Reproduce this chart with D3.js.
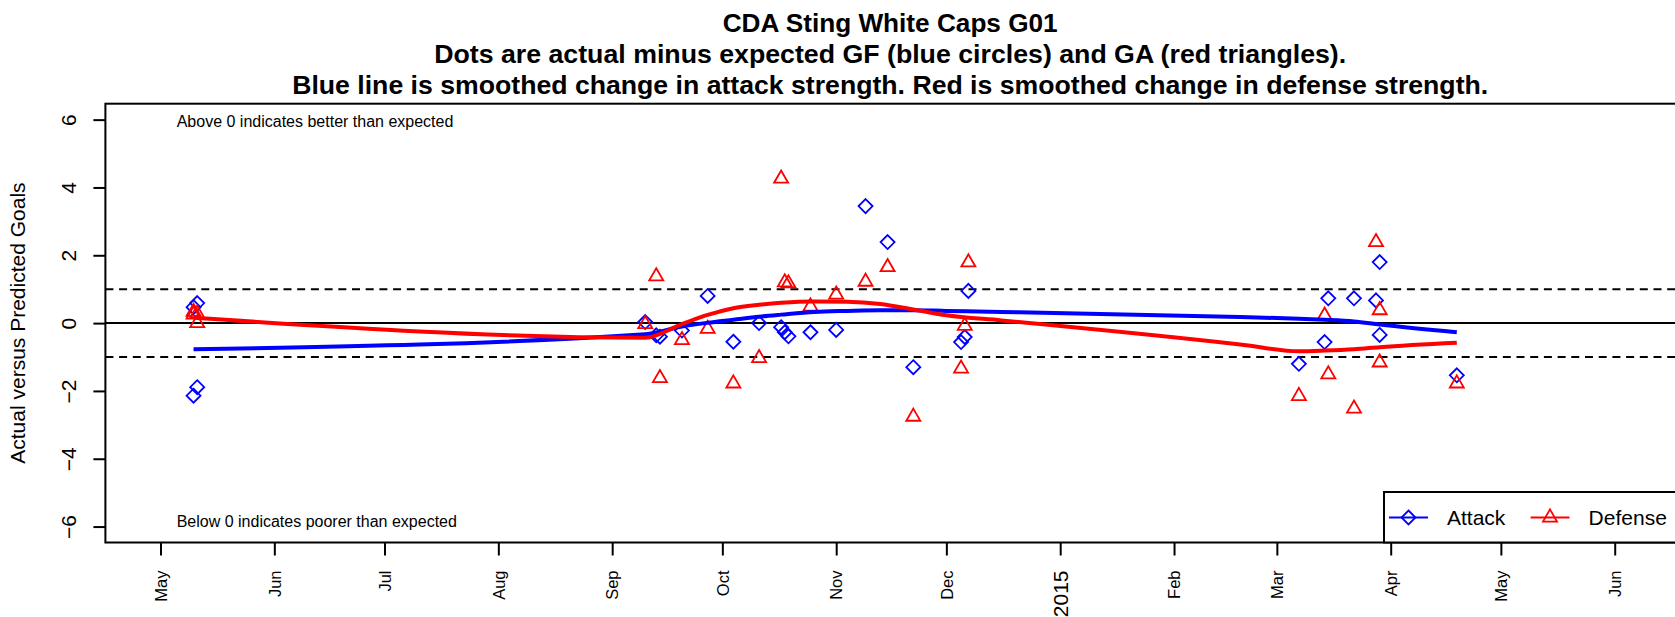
<!DOCTYPE html>
<html>
<head>
<meta charset="utf-8">
<script src="https://cdn.jsdelivr.net/npm/d3@7"></script>
<style>
  body { margin: 0; background: #fff; }
  svg { display: block; font-family: "Liberation Sans", Arial, Helvetica, sans-serif; }
</style>
</head>
<body>
<div id="chart"></div>
<script>
// game-by-game actual minus expected
const gameDates = [
  "2014-05-10", "2014-05-10", "2014-05-11", "2014-05-11",
  "2014-09-10", "2014-09-13", "2014-09-14", "2014-09-20", "2014-09-27",
  "2014-10-04", "2014-10-11", "2014-10-17", "2014-10-18", "2014-10-19",
  "2014-10-25", "2014-11-01", "2014-11-09", "2014-11-15", "2014-11-22",
  "2014-12-05", "2014-12-06", "2014-12-07",
  "2015-03-07", "2015-03-14", "2015-03-15", "2015-03-22", "2015-03-28",
  "2015-03-29", "2015-03-29", "2015-04-19"
];
const attackDiff = [
  0.47, -2.14, 0.59, -1.89,
  0.03, -0.36, -0.40, -0.22, 0.80,
  -0.55, 0.00, -0.12, -0.27, -0.39,
  -0.27, -0.20, 3.45, 2.39, -1.30,
  -0.56, -0.41, 0.95,
  -1.20, -0.56, 0.73, 0.73, 0.67,
  1.80, -0.35, -1.54
];
const defenseDiff = [
  0.33, 0.25, 0.28, 0.00,
  -0.03, 1.38, -1.62, -0.50, -0.17,
  -1.78, -1.03, 4.26, 1.20, 1.17,
  0.49, 0.84, 1.22, 1.65, -2.76,
  -1.34, -0.08, 1.79,
  -2.15, 0.22, -1.51, -2.52, 2.39,
  0.38, -1.16, -1.78
];

// smoothed strength changes
const smoothDates = [
  "2014-05-10", "2014-09-10", "2014-09-20", "2014-09-27", "2014-10-04",
  "2014-10-11", "2014-10-17", "2014-10-26", "2014-11-04", "2014-11-13",
  "2014-11-22", "2014-12-01", "2014-12-16", "2015-02-19", "2015-03-07",
  "2015-03-14", "2015-03-22", "2015-03-29", "2015-04-19"
];
const attackSmooth = [
  -0.77, -0.33, -0.10, 0.01, 0.10,
  0.19, 0.25, 0.33, 0.36, 0.38,
  0.38, 0.36, 0.33, 0.18, 0.13,
  0.10, 0.05, -0.04, -0.27
];
const defenseSmooth = [
  0.16, -0.43, -0.03, 0.24, 0.44,
  0.54, 0.60, 0.64, 0.63, 0.56,
  0.40, 0.23, 0.08, -0.63, -0.83,
  -0.81, -0.77, -0.71, -0.58
];

const xTickDates = [
  "2014-05-01", "2014-06-01", "2014-07-01", "2014-08-01", "2014-09-01",
  "2014-10-01", "2014-11-01", "2014-12-01", "2015-01-01", "2015-02-01",
  "2015-03-01", "2015-04-01", "2015-05-01", "2015-06-01"
];
const xTickLabels = ["May", "Jun", "Jul", "Aug", "Sep", "Oct", "Nov", "Dec",
  "2015", "Feb", "Mar", "Apr", "May", "Jun"];
const yTicks = [-6, -4, -2, 0, 2, 4, 6];

const titleLines = [
  "CDA Sting White Caps G01",
  "Dots are actual minus expected GF (blue circles) and GA (red triangles).",
  "Blue line is smoothed change in attack strength. Red is smoothed change in defense strength."
];
// rendered widths of the title lines in the reference
const titleWidths = [335, 912, 1196];

const width = 1675, height = 617;
const margin = { left: 105.4, top: 103.7, right: 0, bottom: 74.5 };
const parse = d3.utcParse("%Y-%m-%d");

const svg = d3.select("#chart").append("svg")
  .attr("width", width).attr("height", height);
svg.append("rect").attr("width", width).attr("height", height).attr("fill", "#fff");

const x = d3.scaleUtc()
  .domain([parse("2014-04-16"), new Date(Date.UTC(2015, 5, 17, 10))])
  .range([margin.left, width - margin.right]);
const y = d3.scaleLinear()
  .domain([-6.47, 6.47])
  .range([height - margin.bottom, margin.top]);

const x0 = margin.left, x1 = width - margin.right;

svg.append("clipPath").attr("id", "plotclip")
  .append("rect").attr("x", x0).attr("y", margin.top)
  .attr("width", x1 - x0).attr("height", y(-6.47) - margin.top);

const plot = svg.append("g").attr("clip-path", "url(#plotclip)");

// reference lines
plot.selectAll(".dash").data([1, -1]).join("line")
  .attr("x1", x0).attr("x2", x1)
  .attr("y1", d => y(d)).attr("y2", d => y(d))
  .attr("stroke", "#000").attr("stroke-width", 2)
  .attr("stroke-dasharray", "8,5.7");
plot.append("line")
  .attr("x1", x0 - 12).attr("x2", x1)
  .attr("y1", y(0)).attr("y2", y(0))
  .attr("stroke", "#000").attr("stroke-width", 2);

// points
const games = gameDates.map((d, i) => ({ date: parse(d), atk: attackDiff[i], def: defenseDiff[i] }));
const diamond = (cx, cy, r) => `M${cx},${cy - r}L${cx + r},${cy}L${cx},${cy + r}L${cx - r},${cy}Z`;
const triangle = (cx, cy, a) =>
  `M${cx},${cy - 1.555 * a}L${cx + 1.347 * a},${cy + 0.778 * a}L${cx - 1.347 * a},${cy + 0.778 * a}Z`;

plot.selectAll(".atk").data(games).join("path")
  .attr("d", d => diamond(x(d.date), y(d.atk), 7))
  .attr("fill", "none").attr("stroke", "#0000ff").attr("stroke-width", 1.8);
plot.selectAll(".def").data(games).join("path")
  .attr("d", d => triangle(x(d.date), y(d.def), 5.2))
  .attr("fill", "none").attr("stroke", "#ff0000").attr("stroke-width", 1.8);

// smoothed lines
const line = d3.line().x(d => x(d[0])).y(d => y(d[1])).curve(d3.curveMonotoneX);
const sDates = smoothDates.map(parse);
plot.append("path")
  .attr("d", line(sDates.map((d, i) => [d, attackSmooth[i]])))
  .attr("fill", "none").attr("stroke", "#0000ff").attr("stroke-width", 4);
plot.append("path")
  .attr("d", line(sDates.map((d, i) => [d, defenseSmooth[i]])))
  .attr("fill", "none").attr("stroke", "#ff0000").attr("stroke-width", 4);

// notes inside the plot
svg.append("text").attr("x", 176.7).attr("y", 127.3)
  .attr("font-size", 16).text("Above 0 indicates better than expected");
svg.append("text").attr("x", 176.7).attr("y", 527.3)
  .attr("font-size", 16).text("Below 0 indicates poorer than expected");

// y axis
const yAxis = svg.append("g").attr("transform", `translate(${x0},0)`)
  .call(d3.axisLeft(y).tickValues(yTicks).tickSize(12));
yAxis.select(".domain").remove();
yAxis.selectAll("line").attr("stroke", "#000").attr("stroke-width", 2);
yAxis.selectAll("text")
  .attr("transform", "rotate(-90)")
  .attr("x", 0).attr("y", -29.4).attr("dy", 0)
  .attr("text-anchor", "middle")
  .attr("font-size", 21).attr("font-family", null).attr("fill", "#000");

// x axis
const xAxis = svg.append("g").attr("transform", `translate(0,${y(-6.47)})`)
  .call(d3.axisBottom(x).tickValues(xTickDates.map(parse))
    .tickFormat((d, i) => xTickLabels[i]).tickSize(13));
xAxis.select(".domain").remove();
xAxis.selectAll("line").attr("stroke", "#000").attr("stroke-width", 2);
xAxis.selectAll("text")
  .attr("transform", "rotate(-90)")
  .attr("x", -28).attr("y", 0).attr("dy", "0.35em")
  .attr("text-anchor", "end").attr("font-family", null).attr("fill", "#000")
  .attr("font-size", (d, i) => xTickLabels[i] === "2015" ? 21 : 16.5);

// plot box
svg.append("rect")
  .attr("x", x0).attr("y", margin.top)
  .attr("width", x1 - x0 + 5).attr("height", y(-6.47) - margin.top)
  .attr("fill", "none").attr("stroke", "#000").attr("stroke-width", 2);

// y label
svg.append("text")
  .attr("transform", `translate(25,${(margin.top + y(-6.47)) / 2}) rotate(-90)`)
  .attr("text-anchor", "middle").attr("font-size", 21)
  .text("Actual versus Predicted Goals");

// title
svg.selectAll(".title").data(titleLines).join("text")
  .attr("x", (x0 + x1) / 2).attr("y", (d, i) => 31.7 + i * 31.3)
  .attr("text-anchor", "middle").attr("font-weight", "bold").attr("font-size", 25.5)
  .attr("textLength", (d, i) => titleWidths[i]).attr("lengthAdjust", "spacingAndGlyphs")
  .text(d => d);

// legend
const legY = 517.5;
const leg = svg.append("g");
leg.append("rect").attr("x", 1384).attr("y", 492)
  .attr("width", x1 - 1384 + 5).attr("height", y(-6.47) - 492)
  .attr("fill", "#fff").attr("stroke", "#000").attr("stroke-width", 2);
leg.append("line").attr("x1", 1389).attr("x2", 1428).attr("y1", legY).attr("y2", legY)
  .attr("stroke", "#0000ff").attr("stroke-width", 2);
leg.append("path").attr("d", diamond(1408.5, legY, 7))
  .attr("fill", "none").attr("stroke", "#0000ff").attr("stroke-width", 1.8);
leg.append("text").attr("x", 1447).attr("y", legY).attr("dy", "0.35em")
  .attr("font-size", 21).text("Attack");
leg.append("line").attr("x1", 1530.6).attr("x2", 1569.5).attr("y1", legY).attr("y2", legY)
  .attr("stroke", "#ff0000").attr("stroke-width", 2);
leg.append("path").attr("d", triangle(1550, legY, 5.2))
  .attr("fill", "none").attr("stroke", "#ff0000").attr("stroke-width", 1.8);
leg.append("text").attr("x", 1588.6).attr("y", legY).attr("dy", "0.35em")
  .attr("font-size", 21).text("Defense");
</script>
</body>
</html>
